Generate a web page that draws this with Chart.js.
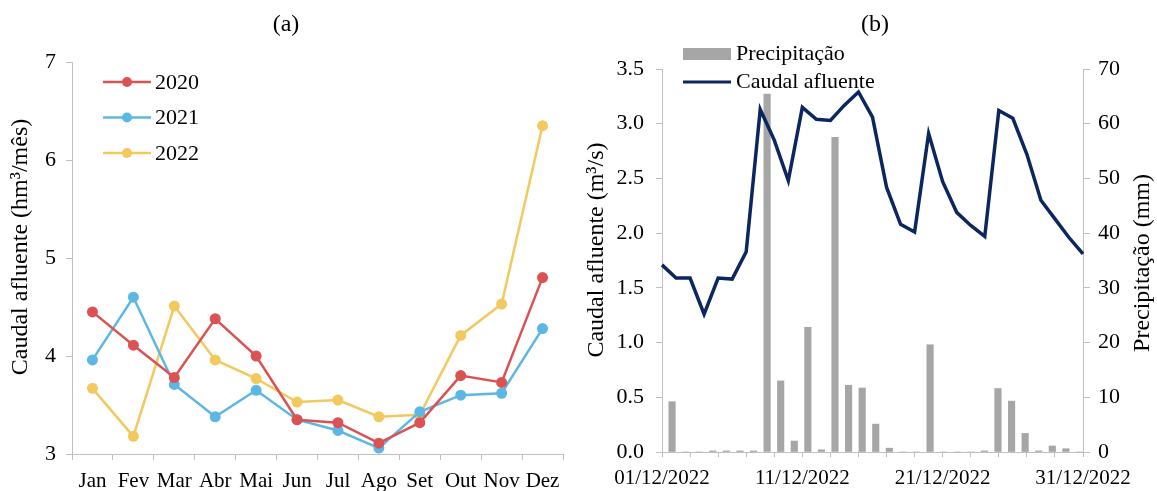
<!DOCTYPE html>
<html>
<head>
<meta charset="utf-8">
<script src="https://cdn.jsdelivr.net/npm/chart.js@4/dist/chart.umd.min.js"></script>
<style>
  html, body { margin: 0; padding: 0; background: #ffffff; }
  #wrap { position: relative; width: 1157px; height: 491px; overflow: hidden; }
  #boxA { position: absolute; left: 0; top: 0; width: 578px; height: 491px; }
  #boxB { position: absolute; left: 578px; top: 0; width: 579px; height: 491px; }
</style>
</head>
<body>
<div id="wrap">
  <div id="boxA"><canvas id="chartA"></canvas></div>
  <div id="boxB"><canvas id="chartB"></canvas></div>
</div>
<script>
// ---- (a) monthly inflow volume (hm3/month) ----
const months = ['Jan', 'Fev', 'Mar', 'Abr', 'Mai', 'Jun', 'Jul', 'Ago', 'Set', 'Out', 'Nov', 'Dez'];
const flow2020 = [4.45, 4.11, 3.78, 4.38, 4.00, 3.35, 3.32, 3.11, 3.32, 3.80, 3.73, 4.80];
const flow2021 = [3.96, 4.60, 3.71, 3.38, 3.65, 3.35, 3.24, 3.06, 3.43, 3.60, 3.62, 4.28];
const flow2022 = [3.67, 3.18, 4.51, 3.96, 3.77, 3.53, 3.55, 3.38, 3.40, 4.21, 4.53, 6.35];
const monthlyAxis = { min: 3, max: 7, step: 1 };

// ---- (b) daily inflow (m3/s) and rainfall (mm), December 2022 ----
const days = ['01/12/2022', '02/12/2022', '03/12/2022', '04/12/2022', '05/12/2022', '06/12/2022',
  '07/12/2022', '08/12/2022', '09/12/2022', '10/12/2022', '11/12/2022', '12/12/2022',
  '13/12/2022', '14/12/2022', '15/12/2022', '16/12/2022', '17/12/2022', '18/12/2022',
  '19/12/2022', '20/12/2022', '21/12/2022', '22/12/2022', '23/12/2022', '24/12/2022',
  '25/12/2022', '26/12/2022', '27/12/2022', '28/12/2022', '29/12/2022', '30/12/2022',
  '31/12/2022'];
const dailyFlow = [1.71, 1.59, 1.59, 1.26, 1.59, 1.58, 1.83, 3.13, 2.85, 2.48,
  3.15, 3.04, 3.03, 3.17, 3.29, 3.06, 2.42, 2.08, 2.01, 2.91,
  2.47, 2.19, 2.07, 1.97, 3.12, 3.05, 2.72, 2.30, 2.13, 1.96, 1.81];
const dailyRain = [9.2, 0, 0, 0.2, 0.2, 0.2, 0.2, 65.4, 13.0, 2.0,
  22.8, 0.4, 57.5, 12.2, 11.7, 5.1, 0.7, 0, 0, 19.6,
  0, 0, 0, 0.2, 11.6, 9.3, 3.4, 0.2, 1.1, 0.6, 0];
const dayLabelEvery = 10;
const flowAxis = { min: 0, max: 3.5, step: 0.5 };
const rainAxis = { min: 0, max: 70, step: 10 };

const SERIF = "'Liberation Serif', 'Times New Roman', serif";
const AXIS_GREY = '#bfbfbf';
Chart.defaults.font.family = SERIF;
Chart.defaults.color = '#000000';

const RED = '#db5252';
const BLUE = '#5db7e5';
const YELLOW = '#f1c95e';
const NAVY = '#0c275f';
const BAR_GREY = '#a6a6a6';

// Free-standing texts: panel captions and rotated axis titles
const freeTexts = {
  id: 'freeTexts',
  afterDraw(chart, args, opts) {
    const ctx = chart.ctx;
    opts.items.forEach((t) => {
      ctx.save();
      ctx.translate(t.x, t.y);
      if (t.rot) ctx.rotate(t.rot);
      ctx.font = t.size + 'px ' + SERIF;
      ctx.fillStyle = '#000';
      ctx.textAlign = 'center';
      ctx.textBaseline = 'middle';
      ctx.fillText(t.text, 0, 0);
      ctx.restore();
    });
  }
};

// Legend with line + marker samples, stacked vertically inside the plot
const markerLegend = {
  id: 'markerLegend',
  afterDraw(chart, args, opts) {
    const ctx = chart.ctx;
    ctx.save();
    chart.data.datasets.forEach((ds, i) => {
      const y = opts.y + i * opts.gap;
      ctx.strokeStyle = ds.borderColor;
      ctx.lineWidth = 2.5;
      ctx.beginPath();
      ctx.moveTo(opts.x, y);
      ctx.lineTo(opts.x + opts.len, y);
      ctx.stroke();
      ctx.fillStyle = ds.backgroundColor;
      ctx.beginPath();
      ctx.arc(opts.x + opts.len / 2, y, 5, 0, Math.PI * 2);
      ctx.fill();
      ctx.fillStyle = '#000';
      ctx.font = '22px ' + SERIF;
      ctx.textAlign = 'left';
      ctx.textBaseline = 'middle';
      ctx.fillText(ds.label, opts.x + opts.len + 4, y + 1);
    });
    ctx.restore();
  }
};

// Legend for the bar + line panel
const comboLegend = {
  id: 'comboLegend',
  afterDraw(chart, args, opts) {
    const ctx = chart.ctx;
    ctx.save();
    ctx.font = '22px ' + SERIF;
    ctx.textAlign = 'left';
    ctx.textBaseline = 'middle';
    const bars = chart.data.datasets.find(d => d.type === 'bar');
    const line = chart.data.datasets.find(d => d.type === 'line');
    ctx.fillStyle = bars.backgroundColor;
    ctx.fillRect(opts.x, opts.y - 6, opts.len, 12);
    ctx.fillStyle = '#000';
    ctx.fillText(bars.label, opts.x + opts.len + 5, opts.y);
    const y2 = opts.y + opts.gap;
    ctx.strokeStyle = line.borderColor;
    ctx.lineWidth = 3;
    ctx.beginPath();
    ctx.moveTo(opts.x, y2);
    ctx.lineTo(opts.x + opts.len, y2);
    ctx.stroke();
    ctx.fillText(line.label, opts.x + opts.len + 5, y2);
    ctx.restore();
  }
};

function lineSeries(label, data, color) {
  return {
    label, data,
    borderColor: color, backgroundColor: color,
    borderWidth: 2.5, pointRadius: 5.5, pointHoverRadius: 5.5,
    pointBorderWidth: 0, tension: 0
  };
}

new Chart(document.getElementById('chartA'), {
  type: 'line',
  data: {
    labels: months,
    datasets: [
      lineSeries('2020', flow2020, RED),
      lineSeries('2021', flow2021, BLUE),
      lineSeries('2022', flow2022, YELLOW)
    ]
  },
  options: {
    responsive: true,
    maintainAspectRatio: false,
    animation: false,
    layout: { padding: { top: 62, right: 15, left: 0, bottom: 0 } },
    plugins: {
      legend: { display: false },
      tooltip: { enabled: false },
      freeTexts: {
        items: [
          { text: '(a)', x: 286, y: 25, size: 24 },
          { text: 'Caudal afluente (hm³/mês)', x: 21, y: 247, size: 24, rot: -Math.PI / 2 }
        ]
      },
      markerLegend: { x: 103, y: 82, gap: 35.5, len: 48 }
    },
    scales: {
      x: {
        offset: true,
        grid: { offset: true, drawOnChartArea: false, tickLength: 6, color: AXIS_GREY },
        border: { color: AXIS_GREY, width: 1 },
        ticks: { font: { size: 21 }, padding: 9, autoSkip: false, maxRotation: 0 },
        afterFit(scale) { scale.height = 37; }
      },
      y: {
        min: monthlyAxis.min, max: monthlyAxis.max,
        ticks: { stepSize: monthlyAxis.step, font: { size: 22 }, padding: 10 },
        grid: { drawOnChartArea: false, tickLength: 6, color: AXIS_GREY },
        border: { color: AXIS_GREY, width: 1 },
        afterFit(scale) { scale.width = 72; }
      }
    }
  },
  plugins: [freeTexts, markerLegend]
});

new Chart(document.getElementById('chartB'), {
  data: {
    labels: days,
    datasets: [
      {
        type: 'line', label: 'Caudal afluente', data: dailyFlow,
        xAxisID: 'x', yAxisID: 'y', order: 0,
        borderColor: NAVY, backgroundColor: NAVY, borderWidth: 3.5,
        pointRadius: 0, tension: 0
      },
      {
        type: 'bar', label: 'Precipitação', data: dailyRain,
        xAxisID: 'xBars', yAxisID: 'yRain', order: 1,
        backgroundColor: BAR_GREY, barThickness: 6.5
      }
    ]
  },
  options: {
    responsive: true,
    maintainAspectRatio: false,
    animation: false,
    layout: { padding: { top: 69, right: 0, left: 0, bottom: 0 } },
    plugins: {
      legend: { display: false },
      tooltip: { enabled: false },
      freeTexts: {
        items: [
          { text: '(b)', x: 297, y: 25, size: 24 },
          { text: 'Caudal afluente (m³/s)', x: 19, y: 250, size: 24, rot: -Math.PI / 2 },
          { text: 'Precipitação (mm)', x: 565, y: 263, size: 24, rot: -Math.PI / 2 }
        ]
      },
      comboLegend: { x: 105, y: 54, gap: 28, len: 48 }
    },
    scales: {
      x: {
        type: 'category',
        offset: false,
        grid: {
          offset: false, drawOnChartArea: false, tickLength: 5,
          color: (c) => (c.index % 2 === 0 ? AXIS_GREY : 'rgba(0,0,0,0)')
        },
        border: { color: AXIS_GREY, width: 1 },
        ticks: {
          font: { size: 21 }, padding: 9, autoSkip: false, maxRotation: 0,
          callback: (v, i) => (i % dayLabelEvery === 0 ? days[i] : '')
        },
        afterFit(scale) { scale.height = 39; }
      },
      xBars: {
        type: 'category',
        display: false,
        offset: true,
        grid: { offset: true }
      },
      y: {
        position: 'left',
        min: flowAxis.min, max: flowAxis.max,
        ticks: { stepSize: flowAxis.step, font: { size: 22 }, padding: 12, callback: (v) => v.toFixed(1) },
        grid: { drawOnChartArea: false, tickLength: 6, color: AXIS_GREY },
        border: { color: AXIS_GREY, width: 1 },
        afterFit(scale) { scale.width = 84; }
      },
      yRain: {
        position: 'right',
        min: rainAxis.min, max: rainAxis.max,
        ticks: { stepSize: rainAxis.step, font: { size: 22 }, padding: 8 },
        grid: { drawOnChartArea: false, tickLength: 7, color: AXIS_GREY },
        border: { color: AXIS_GREY, width: 1 },
        afterFit(scale) { scale.width = 74; }
      }
    }
  },
  plugins: [freeTexts, comboLegend]
});
</script>
</body>
</html>
